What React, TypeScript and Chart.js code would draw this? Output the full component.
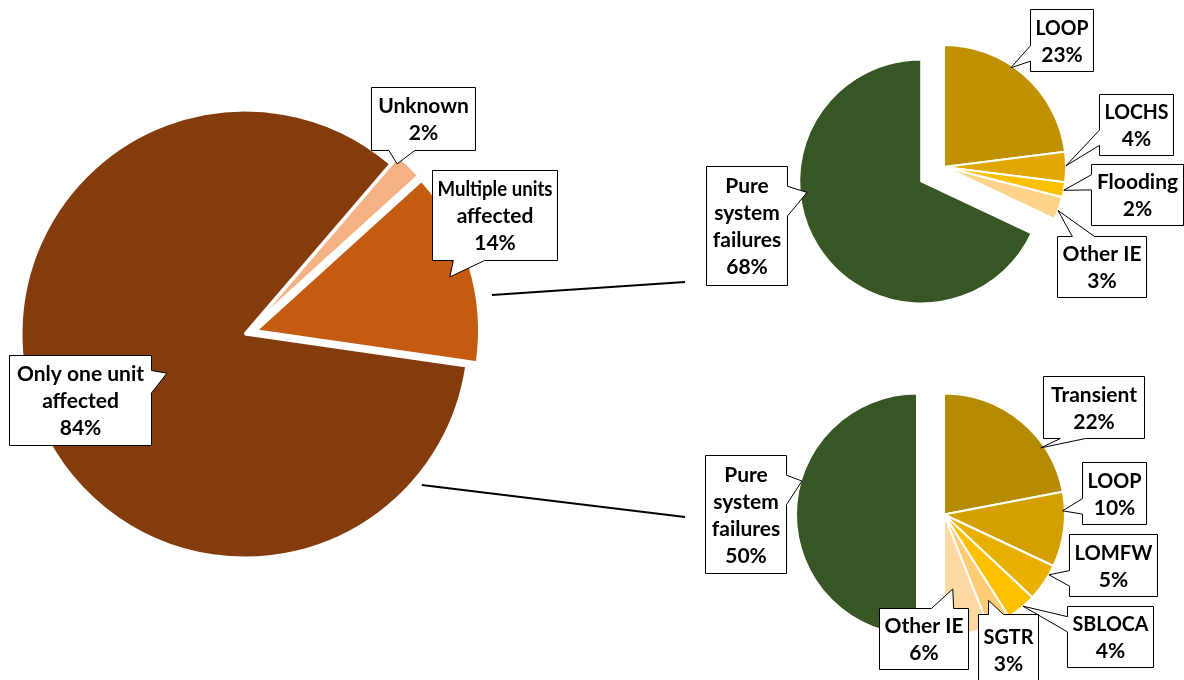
import React, { useEffect, useRef } from "react";
import { Chart, registerables } from "chart.js";

Chart.register(...registerables);

const W = 1184;
const H = 680;

// ---------------- data ----------------
const OVERVIEW_CATEGORIES = ["Only one unit\naffected", "Unknown", "Multiple units\naffected"];
const OVERVIEW_VALUES = [84, 2, 14];

const MULTI_UNIT_CATEGORIES = ["LOOP", "LOCHS", "Flooding", "Other IE", "Pure\nsystem\nfailures"];
const MULTI_UNIT_VALUES = [23, 4, 2, 3, 68];

const SINGLE_UNIT_CATEGORIES = ["Transient", "LOOP", "LOMFW", "SBLOCA", "SGTR", "Other IE", "Pure\nsystem\nfailures"];
const SINGLE_UNIT_VALUES = [22, 10, 5, 4, 3, 6, 50];

// ---------------- styles / layout ----------------
const OVERVIEW_COLORS = ["#843C0C", "#F4B183", "#C55A11"];
const MULTI_UNIT_COLORS = ["#BF9000", "#E0A800", "#FFC000", "#FFD38A", "#375623"];
const SINGLE_UNIT_COLORS = ["#B58B00", "#D4A000", "#E9B000", "#FFC000", "#FFCC73", "#FFD9A1", "#375623"];

const OVERVIEW_EXPLODE = [0, 11, 11];
const MULTI_UNIT_EXPLODE = [0, 0, 0, 0, 27];
const SINGLE_UNIT_EXPLODE = [0, 0, 0, 0, 0, 0, 27];

// callout boxes: [left, top, width, height] in page pixels
const OVERVIEW_BOXES = [
  [9, 355, 142, 90],
  [371, 87, 104, 63],
  [432, 170, 125, 90],
];
// callout tip: [fraction along slice angle, fraction of radius]
const OVERVIEW_TIPS = [
  [0.48, 0.39],
  [0.15, 0.97],
  [0.53, 0.9],
];

const MULTI_UNIT_BOXES = [
  [1030, 9, 63, 62],
  [1099, 94, 74, 61],
  [1091, 164, 92, 61],
  [1057, 236, 89, 61],
  [706, 166, 81, 119],
];
const MULTI_UNIT_TIPS = [
  [0.41, 0.98],
  [0.46, 1.0],
  [0.53, 1.0],
  [0.6, 1.0],
  [0.61, 0.94],
];

const SINGLE_UNIT_BOXES = [
  [1043, 376, 101, 62],
  [1082, 462, 64, 62],
  [1069, 534, 88, 62],
  [1067, 606, 86, 61],
  [978, 614, 60, 70],
  [879, 608, 89, 61],
  [705, 455, 81, 118],
];
const SINGLE_UNIT_TIPS = [
  [0.7, 0.97],
  [0.25, 0.98],
  [0.26, 1.0],
  [0.42, 1.0],
  [0.46, 0.8],
  [0.69, 0.62],
  [0.59, 0.99],
];

// connector lines from the overview pie: [angle deg clockwise from top, radius fraction] -> [x, y]
const CONNECTORS = [
  { from: [81, 1.116], to: [685, 282] },
  { from: [130.5, 1.038], to: [685, 517] },
];

const FONT = "bold 21px Lato, 'Open Sans', sans-serif";
const LINE_H = 27;

type Spec = {
  categories: string[];
  values: number[];
  colors: string[];
  explode: number[];
  center: [number, number];
  radius: number;
  rotation: number;
  borderWidth: number;
  boxes: number[][];
  tips: number[][];
  connectors?: { from: number[]; to: number[] }[];
};

const SPECS: Spec[] = [
  {
    categories: OVERVIEW_CATEGORIES,
    values: OVERVIEW_VALUES,
    colors: OVERVIEW_COLORS,
    explode: OVERVIEW_EXPLODE,
    center: [245, 334],
    radius: 224,
    rotation: 98.2,
    borderWidth: 3,
    boxes: OVERVIEW_BOXES,
    tips: OVERVIEW_TIPS,
    connectors: CONNECTORS,
  },
  {
    categories: MULTI_UNIT_CATEGORIES,
    values: MULTI_UNIT_VALUES,
    colors: MULTI_UNIT_COLORS,
    explode: MULTI_UNIT_EXPLODE,
    center: [944, 167],
    radius: 122,
    rotation: 0,
    borderWidth: 2,
    boxes: MULTI_UNIT_BOXES,
    tips: MULTI_UNIT_TIPS,
  },
  {
    categories: SINGLE_UNIT_CATEGORIES,
    values: SINGLE_UNIT_VALUES,
    colors: SINGLE_UNIT_COLORS,
    explode: SINGLE_UNIT_EXPLODE,
    center: [944, 514.5],
    radius: 121,
    rotation: 0,
    borderWidth: 2,
    boxes: SINGLE_UNIT_BOXES,
    tips: SINGLE_UNIT_TIPS,
  },
];

function drawCallout(ctx: CanvasRenderingContext2D, box: number[], tip: { x: number; y: number }, lines: string[]) {
  const x = Math.round(box[0]) + 0.5;
  const y = Math.round(box[1]) + 0.5;
  const w = Math.round(box[2]);
  const h = Math.round(box[3]);
  const cx = x + w / 2;
  const cy = y + h / 2;
  const inside = tip.x >= x && tip.x <= x + w && tip.y >= y && tip.y <= y + h;
  const dx = (tip.x - cx) / w;
  const dy = (tip.y - cy) / h;
  let pts: number[][];
  if (inside) {
    pts = [[x, y], [x + w, y], [x + w, y + h], [x, y + h]];
  } else if (Math.abs(dx) > Math.abs(dy)) {
    const b1 = tip.y < cy ? y + h / 6 : y + (7 * h) / 12;
    const b2 = tip.y < cy ? y + (5 * h) / 12 : y + (5 * h) / 6;
    if (dx > 0) {
      pts = [[x, y], [x + w, y], [x + w, b1], [tip.x, tip.y], [x + w, b2], [x + w, y + h], [x, y + h]];
    } else {
      pts = [[x, y], [x + w, y], [x + w, y + h], [x, y + h], [x, b2], [tip.x, tip.y], [x, b1]];
    }
  } else {
    const b1 = tip.x < cx ? x + w / 6 : x + (7 * w) / 12;
    const b2 = tip.x < cx ? x + (5 * w) / 12 : x + (5 * w) / 6;
    if (dy < 0) {
      pts = [[x, y], [b1, y], [tip.x, tip.y], [b2, y], [x + w, y], [x + w, y + h], [x, y + h]];
    } else {
      pts = [[x, y], [x + w, y], [x + w, y + h], [b2, y + h], [tip.x, tip.y], [b1, y + h], [x, y + h]];
    }
  }
  ctx.save();
  ctx.beginPath();
  pts.forEach((p, i) => (i === 0 ? ctx.moveTo(p[0], p[1]) : ctx.lineTo(p[0], p[1])));
  ctx.closePath();
  ctx.fillStyle = "#ffffff";
  ctx.fill();
  ctx.lineWidth = 1;
  ctx.lineJoin = "miter";
  ctx.strokeStyle = "#000000";
  ctx.stroke();

  ctx.fillStyle = "#000000";
  ctx.font = FONT;
  ctx.textAlign = "center";
  ctx.textBaseline = "middle";
  const n = lines.length;
  lines.forEach((line, i) => {
    ctx.fillText(line, cx, cy + (i - (n - 1) / 2) * LINE_H + 1, w - 10);
  });
  ctx.restore();
}

function makePlugins(spec: Spec) {
  const explodePlugin = {
    id: "explodeSlices",
    beforeDatasetsDraw(chart: any) {
      const ca = chart.chartArea;
      const cx = (ca.left + ca.right) / 2;
      const cy = (ca.top + ca.bottom) / 2;
      chart.getDatasetMeta(0).data.forEach((arc: any, i: number) => {
        const mid = (arc.startAngle + arc.endAngle) / 2;
        const d = spec.explode[i] || 0;
        arc.x = cx + Math.cos(mid) * d;
        arc.y = cy + Math.sin(mid) * d;
      });
    },
  };
  const calloutPlugin = {
    id: "callouts",
    afterDatasetsDraw(chart: any) {
      const ctx: CanvasRenderingContext2D = chart.ctx;
      const ca = chart.chartArea;
      const ccx = (ca.left + ca.right) / 2;
      const ccy = (ca.top + ca.bottom) / 2;
      const arcs = chart.getDatasetMeta(0).data;
      const total = spec.values.reduce((s, v) => s + v, 0);

      if (spec.connectors) {
        const R = arcs[0].outerRadius;
        ctx.save();
        ctx.strokeStyle = "#000000";
        ctx.lineWidth = 2;
        spec.connectors.forEach((c) => {
          const a = (c.from[0] * Math.PI) / 180;
          const sx = ccx + Math.sin(a) * c.from[1] * R;
          const sy = ccy - Math.cos(a) * c.from[1] * R;
          ctx.beginPath();
          ctx.moveTo(sx, sy);
          ctx.lineTo(c.to[0], c.to[1]);
          ctx.stroke();
        });
        ctx.restore();
      }

      arcs.forEach((arc: any, i: number) => {
        const [t, rf] = spec.tips[i];
        const a = arc.startAngle + t * (arc.endAngle - arc.startAngle);
        const tip = {
          x: arc.x + Math.cos(a) * rf * arc.outerRadius,
          y: arc.y + Math.sin(a) * rf * arc.outerRadius,
        };
        const pct = Math.round((spec.values[i] / total) * 100) + "%";
        const lines = spec.categories[i].split("\n").concat([pct]);
        drawCallout(ctx, spec.boxes[i], tip, lines);
      });
    },
  };
  return [explodePlugin, calloutPlugin];
}

function PieCanvas({ spec }: { spec: Spec }) {
  const ref = useRef<HTMLCanvasElement>(null);
  useEffect(() => {
    const [cx, cy] = spec.center;
    const a = Math.min(cx, W - cx, cy, H - cy);
    const chart = new Chart(ref.current as HTMLCanvasElement, {
      type: "pie",
      data: {
        labels: spec.categories,
        datasets: [
          {
            data: spec.values,
            backgroundColor: spec.colors,
            borderColor: "#ffffff",
            borderWidth: spec.borderWidth,
          },
        ],
      },
      options: {
        responsive: false,
        animation: false,
        devicePixelRatio: 1,
        events: [],
        rotation: spec.rotation,
        radius: spec.radius,
        layout: {
          padding: { left: cx - a, right: W - cx - a, top: cy - a, bottom: H - cy - a },
        },
        plugins: {
          legend: { display: false },
          tooltip: { enabled: false },
        },
      } as any,
      plugins: makePlugins(spec) as any,
    });
    return () => chart.destroy();
  }, [spec]);
  return <canvas ref={ref} width={W} height={H} style={{ position: "absolute", left: 0, top: 0 }} />;
}

export default function App() {
  return (
    <div style={{ position: "absolute", left: 0, top: 0, width: W, height: H, background: "#ffffff", overflow: "hidden" }}>
      {SPECS.map((s, i) => (
        <PieCanvas key={i} spec={s} />
      ))}
    </div>
  );
}
